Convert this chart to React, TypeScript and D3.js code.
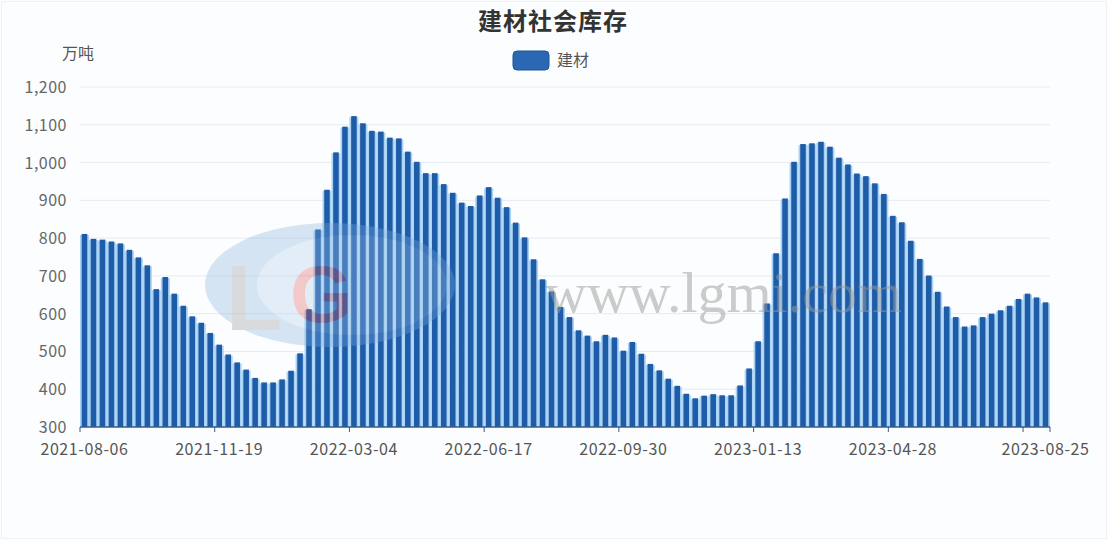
import React from "react";
import * as d3 from "d3";

// weekly social inventory of construction steel, 万吨
const START_DATE = "2021-08-06";
const inventory = [
  811, 798, 796, 791, 786, 769, 749, 728, 665, 697,
  653, 621, 593, 576, 549, 518, 492, 471, 452, 430,
  418, 418, 426, 449, 495, 612, 823, 928, 1027, 1095,
  1123, 1104, 1084, 1082, 1066, 1064, 1029, 1002, 972, 972,
  943, 920, 894, 885, 913, 935, 907, 882, 841, 802,
  744, 691, 659, 618, 591, 556, 542, 527, 544, 537,
  502, 525, 494, 467, 450, 428, 409, 388, 376, 383,
  387, 384, 384, 410, 455, 527, 627, 760, 905, 1002,
  1049, 1051, 1055, 1042, 1013, 995, 971, 964, 945, 917,
  859, 842, 793, 745, 701, 658, 619, 591, 566, 569,
  591, 600, 609, 621, 639, 653, 643, 630,
];
const yTicks = [300, 400, 500, 600, 700, 800, 900, 1000, 1100, 1200];
const labelEvery = 15;

const W = 1108;
const H = 540;
const M = { left: 80, right: 1050, top: 87, bottom: 427 };

const parse = d3.timeParse("%Y-%m-%d");
const fmtDate = d3.timeFormat("%Y-%m-%d");
const start = parse(START_DATE) as Date;
const dates = inventory.map((_, i) => fmtDate(d3.timeDay.offset(start, i * 7)));

const FONT = "'Noto Sans CJK SC', 'Noto Sans', sans-serif";

export default function App() {
  const x = d3.scaleBand<string>().domain(dates).range([M.left, M.right]).padding(0);
  const y = d3.scaleLinear().domain([300, 1200]).range([M.bottom, M.top]);
  const bw = x.bandwidth();
  const fmt = d3.format(",");

  const last = dates.length - 1;
  const labelIdx = dates
    .map((_, i) => i)
    .filter((i) => i % labelEvery === 0 && last - i > 5)
    .concat([last]);
  const tickIdx = dates.map((_, i) => i).filter((i) => i % labelEvery === 0);

  return (
    <svg
      width={W}
      height={H}
      style={{ position: "absolute", left: 0, top: 0, display: "block", fontFamily: FONT }}
    >
      <rect x={0} y={0} width={W} height={H} fill="#fcfdfe" />
      <rect x={1.5} y={1.5} width={W - 3} height={H - 3} fill="none" stroke="#eef1f5" />

      {/* title + legend */}
      <text x={553} y={30} textAnchor="middle" fontSize={24} fontWeight={700} fill="#333" letterSpacing={1}>
        建材社会库存
      </text>
      <rect x={513} y={51} width={36} height={19} rx={4} fill="#2b68b4" stroke="#1d5398" />
      <text x={557} y={66} fontSize={16} fill="#555">建材</text>

      {/* y axis */}
      <text x={62} y={59} fontSize={16} fill="#555">万吨</text>
      {yTicks.map((t) => (
        <g key={t}>
          {t > 300 && (
            <line x1={M.left} x2={M.right} y1={y(t)} y2={y(t)} stroke="#e6ebf2" strokeWidth={1} />
          )}
          <text x={67} y={y(t) + 6} textAnchor="end" fontSize={16} fill="#666" letterSpacing={0.5}>
            {fmt(t)}
          </text>
        </g>
      ))}

      {/* bars */}
      <g>
        {inventory.map((v, i) => {
          const x0 = x(dates[i]) as number;
          const top = y(v);
          const h = M.bottom - top;
          const inner = bw * 0.62;
          return (
            <g key={dates[i]}>
              <rect x={x0} y={top + 1} width={bw} height={h - 1} fill="#a9d3f5" />
              <rect x={x0 + (bw - inner) / 2} y={top} width={inner} height={h} fill="#1f5ca8" />
            </g>
          );
        })}
      </g>

      {/* watermark */}
      <g opacity={0.3} pointerEvents="none">
        <ellipse cx={330} cy={285} rx={125} ry={62} fill="#7eaedd" />
        <ellipse cx={352} cy={285} rx={95} ry={50} fill="#a9cbeb" />
        <text x={226} y={330} fontSize={92} fontFamily="'Liberation Sans', sans-serif" fontWeight={700} fill="#8c8c8c">
          L
        </text>
        <text x={290} y={322} fontSize={80} fontFamily="'Liberation Sans', sans-serif" fontWeight={700} fill="#e05050">
          G
        </text>
      </g>
      <text
        x={545}
        y={312}
        fontSize={58}
        fontFamily="'Liberation Serif', serif"
        fill="#9a9a9a"
        opacity={0.5}
        pointerEvents="none"
      >
        www.lgmi.com
      </text>

      {/* x axis */}
      <line x1={M.left} x2={M.right} y1={M.bottom} y2={M.bottom} stroke="#3a5a8a" strokeWidth={1.5} />
      {tickIdx.map((i) => (
        <line
          key={"t" + i}
          x1={x(dates[i]) as number}
          x2={x(dates[i]) as number}
          y1={M.bottom}
          y2={M.bottom + 5}
          stroke="#3a5a8a"
        />
      ))}
      <line x1={M.right} x2={M.right} y1={M.bottom} y2={M.bottom + 5} stroke="#3a5a8a" />
      {labelIdx.map((i) => (
        <text
          key={"l" + i}
          x={(x(dates[i]) as number) + bw / 2}
          y={455}
          textAnchor="middle"
          fontSize={16}
          fill="#555"
          letterSpacing={0.6}
        >
          {dates[i]}
        </text>
      ))}
    </svg>
  );
}
